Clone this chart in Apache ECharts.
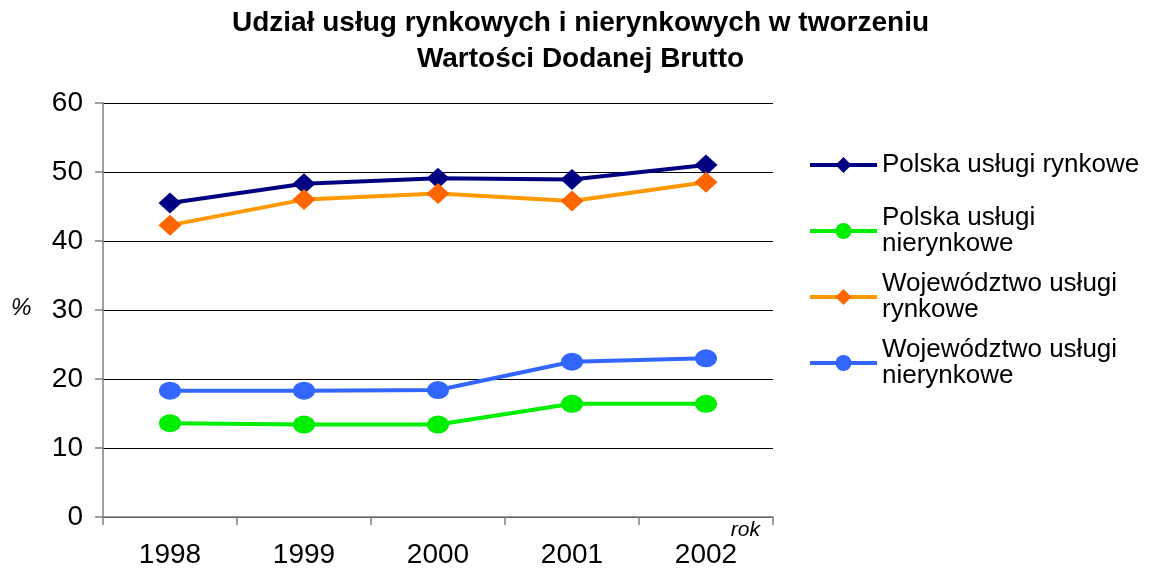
<!DOCTYPE html>
<html>
<head>
<meta charset="utf-8">
<script src="https://cdn.jsdelivr.net/npm/echarts@6/dist/echarts.min.js"></script>
<style>
  html, body { margin: 0; padding: 0; background: #fff; }
  #chart { width: 1161px; height: 569px; }
</style>
</head>
<body>
<div id="chart"></div>
<script>
// dane
var years = ['1998', '1999', '2000', '2001', '2002'];
var yTicks = [0, 10, 20, 30, 40, 50, 60];

var polskaRynkowe = [45.5, 48.3, 49.1, 48.9, 51.0];
var polskaNierynkowe = [13.6, 13.4, 13.4, 16.4, 16.4];
var wojRynkowe = [42.3, 46.0, 46.9, 45.8, 48.5];
var wojNierynkowe = [18.3, 18.3, 18.4, 22.5, 23.0];

var titleLines = [
  'Udział usług rynkowych i nierynkowych w tworzeniu',
  'Wartości Dodanej Brutto'
];
var names = [
  'Polska usługi rynkowe',
  'Polska usługi nierynkowe',
  'Województwo usługi rynkowe',
  'Województwo usługi nierynkowe'
];
var legendText = {
  'Polska usługi rynkowe': 'Polska usługi rynkowe',
  'Polska usługi nierynkowe': 'Polska usługi\nnierynkowe',
  'Województwo usługi rynkowe': 'Województwo usługi\nrynkowe',
  'Województwo usługi nierynkowe': 'Województwo usługi\nnierynkowe'
};

var font = '"Liberation Sans", Arial, sans-serif';
var chart = echarts.init(document.getElementById('chart'));

// osobna legenda dla każdej serii, żeby znacznik stał przy pierwszej linii tekstu
var legendTops = [152, 192, 258, 324];
function makeLegend(name, i) {
  var twoLines = legendText[name].indexOf('\n') >= 0;
  return {
    data: [name],
    left: 808,
    top: legendTops[i],
    padding: 0,
    itemWidth: 67,
    itemHeight: 20,
    itemGap: 0,
    selectedMode: false,
    lineStyle: { width: 4 },
    formatter: function (n) { return legendText[n]; },
    textStyle: {
      fontFamily: font,
      fontSize: 26,
      lineHeight: 26,
      color: '#000',
      padding: twoLines ? [26, 0, 0, 0] : 0
    }
  };
}

function line(name, data, lineColor, markColor, symbol, size) {
  return {
    name: name,
    type: 'line',
    data: data,
    symbol: symbol,
    symbolSize: size,
    lineStyle: { color: lineColor, width: 4 },
    itemStyle: { color: markColor },
    emphasis: { disabled: true },
    z: 3
  };
}

// tytuł w dwóch wierszach, każdy wyśrodkowany osobno
var titles = titleLines.map(function (t, i) {
  return {
    text: t,
    left: 'center',
    top: 9 + i * 36,
    padding: 0,
    textStyle: {
      fontFamily: font,
      fontSize: 28,
      fontWeight: 'bold',
      color: '#000'
    }
  };
});

var option = {
  animation: false,
  backgroundColor: '#fff',
  title: titles,
  legend: names.map(makeLegend),
  grid: { left: 103, right: 388, top: 103, bottom: 51, containLabel: false },
  xAxis: {
    type: 'category',
    data: years,
    boundaryGap: true,
    axisLine: { lineStyle: { color: '#808080', width: 1.5 } },
    axisTick: { show: true, interval: 0, length: 8, lineStyle: { color: '#808080', width: 1.5 } },
    axisLabel: { fontFamily: font, fontSize: 28, color: '#000', margin: 24 }
  },
  yAxis: {
    type: 'value',
    min: yTicks[0],
    max: yTicks[yTicks.length - 1],
    interval: 10,
    axisLine: { show: true, lineStyle: { color: '#808080', width: 1.5 } },
    axisTick: { show: true, length: 8, lineStyle: { color: '#808080', width: 1.5 } },
    axisLabel: { fontFamily: font, fontSize: 28, color: '#000', margin: 20 },
    splitLine: { lineStyle: { color: '#000', width: 1 } }
  },
  graphic: [
    {
      type: 'text', left: 11, top: 297,
      style: { text: '%', fontFamily: font, fontSize: 23, fontStyle: 'italic', fill: '#000' }
    },
    {
      type: 'text', right: 401, top: 520,
      style: { text: 'rok', fontFamily: font, fontSize: 21, fontStyle: 'italic', fill: '#000' }
    }
  ],
  series: [
    line(names[0], polskaRynkowe, '#000080', '#000080', 'diamond', [23, 21]),
    line(names[1], polskaNierynkowe, '#00EE00', '#00EE00', 'circle', [22, 18]),
    line(names[2], wojRynkowe, '#FF9900', '#FF6600', 'diamond', [23, 21]),
    line(names[3], wojNierynkowe, '#3366FF', '#3366FF', 'circle', [22, 18])
  ]
};

chart.setOption(option);
</script>
</body>
</html>
